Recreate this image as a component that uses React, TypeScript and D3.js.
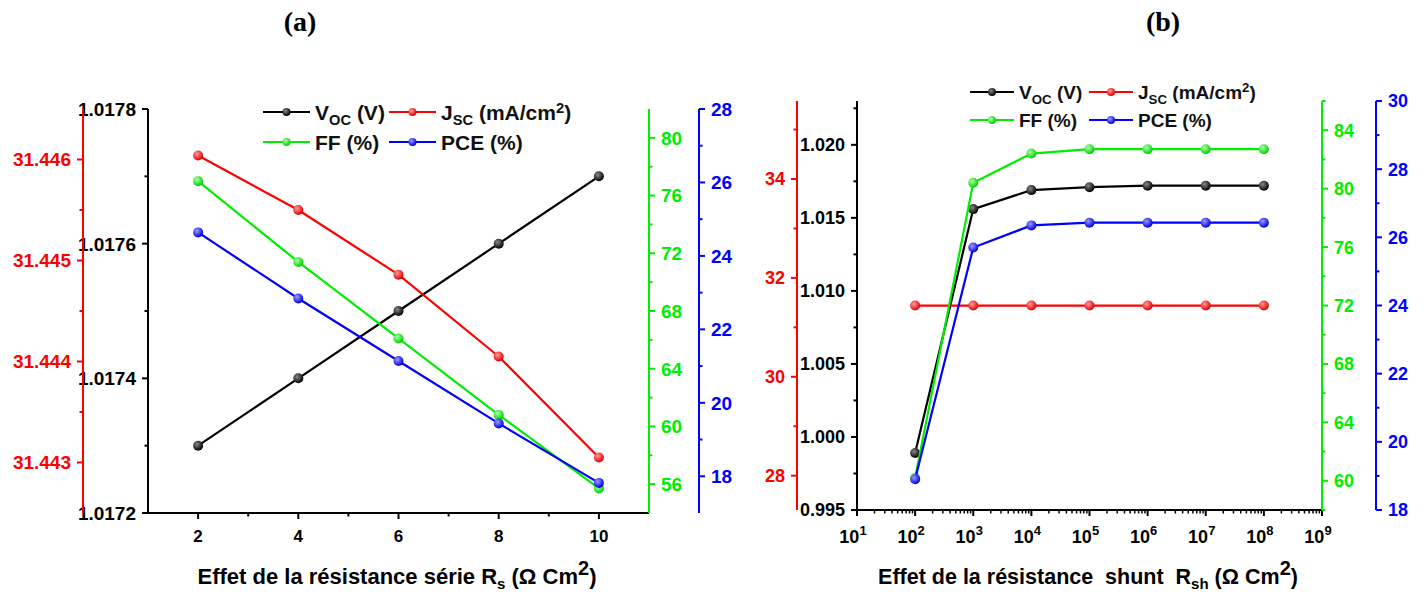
import React from "react";
import * as d3 from "d3";

// ---------- Data ----------
const rsValues = [2, 4, 6, 8, 10];
const rsVoc = [1.0173, 1.0174, 1.0175, 1.0176, 1.0177];
const rsJsc = [31.44604, 31.4455, 31.44486, 31.44405, 31.44305];
const rsFF = [77.0, 71.4, 66.1, 60.8, 55.7];
const rsPCE = [24.64, 22.84, 21.14, 19.44, 17.82];

const rshValues = [1e2, 1e3, 1e4, 1e5, 1e6, 1e7, 1e8];
const rshVoc = [0.9989, 1.0156, 1.0169, 1.0171, 1.0172, 1.0172, 1.0172];
const rshJsc = [31.44, 31.44, 31.44, 31.44, 31.44, 31.44, 31.44];
const rshFF = [60.2, 80.4, 82.4, 82.7, 82.7, 82.7, 82.7];
const rshPCE = [18.9, 25.7, 26.35, 26.43, 26.43, 26.43, 26.43];

const leftVocTicks = [1.0172, 1.0174, 1.0176, 1.0178];
const leftJscTicks = [31.443, 31.444, 31.445, 31.446];
const leftFFTicks = [56, 60, 64, 68, 72, 76, 80];
const leftPCETicks = [18, 20, 22, 24, 26, 28];
const leftXTicks = [2, 4, 6, 8, 10];

const rightVocTicks = [0.995, 1.0, 1.005, 1.01, 1.015, 1.02];
const rightJscTicks = [28, 30, 32, 34];
const rightFFTicks = [60, 64, 68, 72, 76, 80, 84];
const rightPCETicks = [18, 20, 22, 24, 26, 28, 30];
const rightXExponents = [1, 2, 3, 4, 5, 6, 7, 8, 9];

const COLORS = { voc: "#000000", jsc: "#ff0000", ff: "#00ee00", pce: "#0000ff" };
const FONT = "'Liberation Sans', Arial, sans-serif";

type Side = "left" | "right";

function YAxis(props: {
  scale: d3.ScaleLinear<number, number>;
  x: number;
  majors: number[];
  minors: number[];
  side: Side;
  color: string;
  fmt: (v: number) => string;
  fontSize?: number;
}) {
  const { scale, x, majors, minors, side, color, fmt } = props;
  const fs = props.fontSize ?? 19;
  const dir = side === "left" ? -1 : 1;
  const [r0, r1] = scale.range();
  return (
    <g>
      <line x1={x} x2={x} y1={r0} y2={r1} stroke={color} strokeWidth={2} />
      {majors.map((v) => (
        <g key={"M" + v}>
          <line x1={x} x2={x + dir * 6} y1={scale(v)} y2={scale(v)} stroke={color} strokeWidth={2} />
          <text
            x={x + dir * 12}
            y={scale(v)}
            dy="0.36em"
            textAnchor={side === "left" ? "end" : "start"}
            fill={color}
            fontSize={fs}
            fontWeight="bold"
            fontFamily={FONT}
          >
            {fmt(v)}
          </text>
        </g>
      ))}
      {minors.map((v) => (
        <line key={"m" + v} x1={x} x2={x + dir * 3.5} y1={scale(v)} y2={scale(v)} stroke={color} strokeWidth={2} />
      ))}
    </g>
  );
}

function Series(props: {
  xs: number[];
  ys: number[];
  xScale: (v: number) => number;
  yScale: (v: number) => number;
  color: string;
  grad: string;
}) {
  const { xs, ys, xScale, yScale, color, grad } = props;
  const pts: [number, number][] = xs.map((x, i) => [xScale(x), yScale(ys[i])]);
  const line = d3.line()(pts) || "";
  return (
    <g>
      <path d={line} fill="none" stroke={color} strokeWidth={2.2} />
      {pts.map((p, i) => (
        <circle key={i} cx={p[0]} cy={p[1]} r={5} fill={`url(#${grad})`} />
      ))}
    </g>
  );
}

function LegendItem(props: { x: number; y: number; color: string; grad: string; len: number; children: React.ReactNode; fs: number }) {
  const { x, y, color, grad, len, children, fs } = props;
  return (
    <g>
      <line x1={x} x2={x + len} y1={y} y2={y} stroke={color} strokeWidth={2.2} />
      <circle cx={x + len / 2} cy={y} r={4} fill={`url(#${grad})`} />
      <text x={x + len + 5} y={y} dy="0.36em" fontSize={fs} fontWeight="bold" fontFamily={FONT} fill="#111">
        {children}
      </text>
    </g>
  );
}

function Legend(props: { x1: number; x2: number; y1: number; y2: number; len: number; fs: number }) {
  const { x1, x2, y1, y2, len, fs } = props;
  const sub = fs * 0.7;
  return (
    <g>
      <LegendItem x={x1} y={y1} color={COLORS.voc} grad="g-voc" len={len} fs={fs}>
        V<tspan fontSize={sub} dy={5}>OC</tspan>
        <tspan dy={-5}> (V)</tspan>
      </LegendItem>
      <LegendItem x={x2} y={y1} color={COLORS.jsc} grad="g-jsc" len={len} fs={fs}>
        J<tspan fontSize={sub} dy={5}>SC</tspan>
        <tspan dy={-5}> (mA/cm</tspan>
        <tspan fontSize={sub} dy={-7}>2</tspan>
        <tspan dy={7}>)</tspan>
      </LegendItem>
      <LegendItem x={x1} y={y2} color={COLORS.ff} grad="g-ff" len={len} fs={fs}>
        FF (%)
      </LegendItem>
      <LegendItem x={x2} y={y2} color={COLORS.pce} grad="g-pce" len={len} fs={fs}>
        PCE (%)
      </LegendItem>
    </g>
  );
}

export default function App() {
  // ----- Left panel scales -----
  const xL = d3.scaleLinear().domain([1, 11]).range([148, 649]);
  const yVocL = d3.scaleLinear().domain([1.0172, 1.0178]).range([513, 109]);
  const yJscL = d3.scaleLinear().domain([31.4425, 31.4465]).range([513, 109]);
  const yFFL = d3.scaleLinear().domain([54, 82]).range([513, 109]);
  const yPCEL = d3.scaleLinear().domain([17, 28]).range([513, 109]);

  // ----- Right panel scales -----
  const xR = d3.scaleLog().domain([10, 1e9]).range([857, 1322]);
  const yVocR = d3.scaleLinear().domain([0.995, 1.023]).range([510, 101]);
  const yJscR = d3.scaleLinear().domain([27.306, 35.577]).range([510, 101]);
  const yFFR = d3.scaleLinear().domain([58, 86]).range([510, 101]);
  const yPCER = d3.scaleLinear().domain([18, 30]).range([510, 101]);

  const grads = [
    ["g-voc", "#888", "#000"],
    ["g-jsc", "#ff9a9a", "#e00000"],
    ["g-ff", "#aaffaa", "#00d000"],
    ["g-pce", "#9a9aff", "#0000e0"],
  ];

  const logMinors: number[] = [];
  for (let e = 1; e < 9; e++) for (let m = 2; m <= 9; m++) logMinors.push(m * Math.pow(10, e));

  return (
    <svg width={1424} height={592} style={{ position: "absolute", left: 0, top: 0, background: "#fff" }}>
      <defs>
        {grads.map(([id, c1, c2]) => (
          <radialGradient key={id} id={id} cx="38%" cy="35%" r="65%">
            <stop offset="0%" stopColor={c1} />
            <stop offset="100%" stopColor={c2} />
          </radialGradient>
        ))}
      </defs>
      <rect x={0} y={0} width={1424} height={592} fill="#fff" />

      {/* Titles */}
      <text x={300} y={31} textAnchor="middle" fontFamily="'Liberation Serif', 'Times New Roman', serif" fontWeight="bold" fontSize={28}>(a)</text>
      <text x={1163} y={31} textAnchor="middle" fontFamily="'Liberation Serif', 'Times New Roman', serif" fontWeight="bold" fontSize={28}>(b)</text>

      {/* ===== Left panel ===== */}
      <g>
        <line x1={148} x2={649} y1={513} y2={513} stroke="#000" strokeWidth={2} />
        {leftXTicks.map((v) => (
          <g key={v}>
            <line x1={xL(v)} x2={xL(v)} y1={513} y2={519} stroke="#000" strokeWidth={2} />
            <text x={xL(v)} y={542} textAnchor="middle" fontSize={17} fontWeight="bold" fontFamily={FONT}>{v}</text>
          </g>
        ))}
        {[3, 5, 7, 9].map((v) => (
          <line key={v} x1={xL(v)} x2={xL(v)} y1={513} y2={516.5} stroke="#000" strokeWidth={2} />
        ))}
        <YAxis scale={yVocL} x={148} majors={leftVocTicks} minors={[1.0173, 1.0175, 1.0177]} side="left" color={COLORS.voc} fmt={d3.format(".4f")} />
        <YAxis scale={yJscL} x={83} majors={leftJscTicks} minors={[31.4435, 31.4445, 31.4455]} side="left" color={COLORS.jsc} fmt={d3.format(".3f")} />
        <YAxis scale={yFFL} x={649} majors={leftFFTicks} minors={[58, 62, 66, 70, 74, 78]} side="right" color={COLORS.ff} fmt={(v) => String(v)} />
        <YAxis scale={yPCEL} x={699} majors={leftPCETicks} minors={[19, 21, 23, 25, 27]} side="right" color={COLORS.pce} fmt={(v) => String(v)} />

        <Series xs={rsValues} ys={rsVoc} xScale={xL} yScale={yVocL} color={COLORS.voc} grad="g-voc" />
        <Series xs={rsValues} ys={rsJsc} xScale={xL} yScale={yJscL} color={COLORS.jsc} grad="g-jsc" />
        <Series xs={rsValues} ys={rsFF} xScale={xL} yScale={yFFL} color={COLORS.ff} grad="g-ff" />
        <Series xs={rsValues} ys={rsPCE} xScale={xL} yScale={yPCEL} color={COLORS.pce} grad="g-pce" />

        <Legend x1={263} x2={389} y1={112} y2={142} len={47} fs={21} />

        <text x={397} y={584} textAnchor="middle" fontSize={22} fontWeight="bold" fontFamily={FONT}>
          Effet de la résistance série R<tspan fontSize={15} dy={5}>s</tspan>
          <tspan dy={-5}> (Ω Cm</tspan>
          <tspan fontSize={20} dy={-9}>2</tspan>
          <tspan dy={9}>)</tspan>
        </text>
      </g>

      {/* ===== Right panel ===== */}
      <g>
        <line x1={857} x2={1322} y1={510} y2={510} stroke="#000" strokeWidth={2} />
        {rightXExponents.map((e) => {
          const v = Math.pow(10, e);
          return (
            <g key={e}>
              <line x1={xR(v)} x2={xR(v)} y1={510} y2={516} stroke="#000" strokeWidth={2} />
              <text x={xR(v) - 4} y={543} textAnchor="middle" fontSize={18} fontWeight="bold" fontFamily={FONT}>
                10<tspan fontSize={13} dy={-8}>{e}</tspan>
              </text>
            </g>
          );
        })}
        {logMinors.map((v) => (
          <line key={v} x1={xR(v)} x2={xR(v)} y1={510} y2={513.5} stroke="#000" strokeWidth={1.5} />
        ))}
        <YAxis scale={yJscR} x={797} majors={rightJscTicks} minors={[29, 31, 33, 35]} side="left" color={COLORS.jsc} fmt={(v) => String(v)} fontSize={18} />
        <YAxis scale={yVocR} x={857} majors={rightVocTicks} minors={[0.9975, 1.0025, 1.0075, 1.0125, 1.0175, 1.0225]} side="left" color={COLORS.voc} fmt={d3.format(".3f")} fontSize={18} />
        <YAxis scale={yFFR} x={1322} majors={rightFFTicks} minors={[58, 62, 66, 70, 74, 78, 82, 86]} side="right" color={COLORS.ff} fmt={(v) => String(v)} fontSize={18} />
        <YAxis scale={yPCER} x={1376} majors={rightPCETicks} minors={[19, 21, 23, 25, 27, 29]} side="right" color={COLORS.pce} fmt={(v) => String(v)} fontSize={18} />

        <Series xs={rshValues} ys={rshVoc} xScale={xR} yScale={yVocR} color={COLORS.voc} grad="g-voc" />
        <Series xs={rshValues} ys={rshJsc} xScale={xR} yScale={yJscR} color={COLORS.jsc} grad="g-jsc" />
        <Series xs={rshValues} ys={rshFF} xScale={xR} yScale={yFFR} color={COLORS.ff} grad="g-ff" />
        <Series xs={rshValues} ys={rshPCE} xScale={xR} yScale={yPCER} color={COLORS.pce} grad="g-pce" />

        <Legend x1={970} x2={1089} y1={92} y2={120} len={44} fs={19} />

        <text x={1088} y={584} textAnchor="middle" fontSize={21.5} fontWeight="bold" fontFamily={FONT} style={{ whiteSpace: "pre" }}>
          {"Effet de la résistance  shunt  R"}
          <tspan fontSize={15} dy={5}>sh</tspan>
          <tspan dy={-5}> (Ω Cm</tspan>
          <tspan fontSize={20} dy={-9}>2</tspan>
          <tspan dy={9}>)</tspan>
        </text>
      </g>
    </svg>
  );
}
